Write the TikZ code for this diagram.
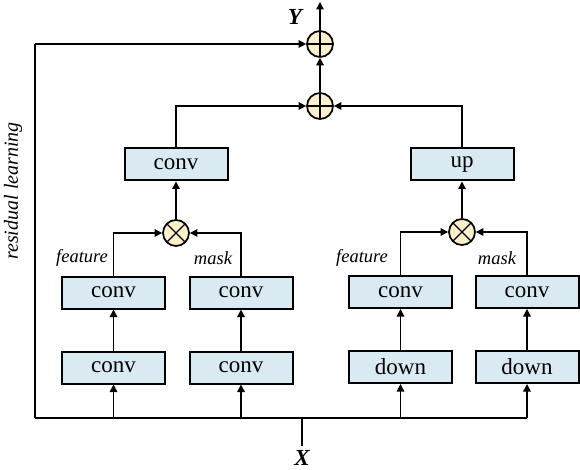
\documentclass[tikz,border=0pt]{standalone}
\usepackage{fontspec}
\setmainfont{Liberation Serif}
\usetikzlibrary{arrows.meta,calc}
\definecolor{boxblue}{HTML}{DAEAF2}
\definecolor{opcream}{HTML}{FCEFCB}
\begin{document}
\begin{tikzpicture}[x=1pt,y=-1pt,
  blk/.style={draw,line width=2pt,fill=boxblue,minimum width=103pt,minimum height=32pt,inner sep=0pt,font=\fontsize{23}{25}\selectfont},
  opcirc/.style={draw,circle,line width=1.7pt,fill=opcream,minimum size=26pt,inner sep=0pt},
  oplusnode/.style={opcirc,path picture={\draw[line width=1.2pt] (path picture bounding box.north) -- (path picture bounding box.south) (path picture bounding box.west) -- (path picture bounding box.east);}},
  otimesnode/.style={opcirc,path picture={\draw[line width=1.2pt] (path picture bounding box.center) +(45:13pt) -- +(225:13pt) (path picture bounding box.center) +(135:13pt) -- +(315:13pt);}},
  conn/.style={line width=1.4pt,-{Triangle[length=7.5pt,width=7.5pt]}},
  lbl/.style={font=\fontsize{18.5}{20}\selectfont\itshape},
]
\useasboundingbox (0,0) rectangle (580,470);
% boxes
\node[blk] (c1) at (113.5,367.5) {conv};
\node[blk] (c2) at (241,367.5) {conv};
\node[blk] (d1) at (400.5,367) {down};
\node[blk] (d2) at (527,367) {down};
\node[blk] (c3) at (113.5,292.5) {conv};
\node[blk] (c4) at (241,292.5) {conv};
\node[blk] (c5) at (400.5,292) {conv};
\node[blk] (c6) at (527,292) {conv};
\node[otimesnode] (m1) at (176,233) {};
\node[otimesnode] (m2) at (462,232) {};
\node[blk] (t1) at (176,164.5) {conv};
\node[blk] (u1) at (462,164.5) {up};
\node[oplusnode] (p1) at (320,106) {};
\node[oplusnode] (p2) at (320,44) {};
% labels
\node[font=\fontsize{23}{25}\selectfont\bfseries\itshape] (ylab) at (295,17) {Y};
\node[font=\fontsize{23}{25}\selectfont\bfseries\itshape,inner sep=1pt] (xlab) at (302,458) {X};
\node[lbl] (f1) at (82,258) {feature};
\node[lbl] (k1) at (213,258) {mask};
\node[lbl] (f2) at (362,258) {feature};
\node[lbl] (k2) at (497,258) {mask};
\node[font=\fontsize{20}{22}\selectfont\itshape,rotate=90] (res) at (13,191) {residual learning};
% coordinates
\coordinate (xin) at (302,446);
\coordinate (xj) at (302,418);
\coordinate (rl) at (35,418);
\coordinate (rt) at (35,44);
\coordinate (yout) at (320,2);
% input bus
\draw[line width=2.6pt] (xin) -- (xj);
\draw[line width=1.8pt] (rl) -- (c2 |- xj) -- (d2 |- xj);
\draw[line width=1.8pt] (rl) -- (rt);
\draw[conn] (rt) -- (p2.west);
\draw[conn] (c1 |- xj) -- (c1.south);
\draw[conn] (c2 |- xj) -- (c2.south);
\draw[conn] (d1 |- xj) -- (d1.south);
\draw[conn] (d2 |- xj) -- (d2.south);
% stacks
\draw[conn] (c1.north) -- (c3.south);
\draw[conn] (c2.north) -- (c4.south);
\draw[conn] (d1.north) -- (c5.south);
\draw[conn] (d2.north) -- (c6.south);
% to multipliers
\draw[conn] (c3.north) -- (c3.north |- m1) -- (m1.west);
\draw[conn] (c4.north) -- (c4.north |- m1) -- (m1.east);
\draw[conn] (c5.north) -- (c5.north |- m2) -- (m2.west);
\draw[conn] (c6.north) -- (c6.north |- m2) -- (m2.east);
\draw[conn] (m1.north) -- (t1.south);
\draw[conn] (m2.north) -- (u1.south);
% to adders
\draw[conn] (t1.north) -- (t1.north |- p1) -- (p1.west);
\draw[conn] (u1.north) -- (u1.north |- p1) -- (p1.east);
\draw[conn] (p1.north) -- (p2.south);
\draw[conn] (p2.north) -- (yout);
\end{tikzpicture}
\end{document}
